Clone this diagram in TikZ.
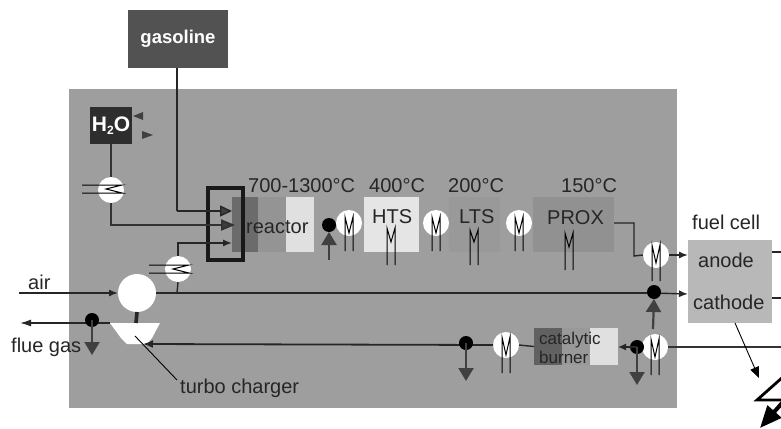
\documentclass[tikz,border=0pt]{standalone}
\usepackage{fontspec}
\setmainfont{Liberation Sans}
\usetikzlibrary{arrows.meta}
\definecolor{panelgray}{gray}{0.62}
\definecolor{tipgray}{gray}{0.25}
\tikzset{
  block/.style={rectangle,draw=none,inner sep=0pt,outer sep=0pt},
  label/.style={inner sep=0pt,font=\fontsize{20}{22}\selectfont,text=black!85},
  hot/.style={circle,fill=white,draw=none,minimum size=26pt,inner sep=0pt,outer sep=0pt},
  dot/.style={circle,fill=black,draw=none,minimum size=14pt,inner sep=0pt,outer sep=0pt},
  pipe/.style={line width=1.4pt,black!85},
  thickpipe/.style={line width=2.2pt,black!80},
  smalltip/.style={-{Latex[length=9pt,width=7pt]}},
  bigdown/.style={line width=2.2pt,black!75,-{Triangle[length=13pt,width=15pt,fill=tipgray]}},
  coilline/.style={line width=1pt,black},
  pics/mcoil/.style n args={2}{code={
    \draw[coilline] (-4,#2) -- (-4,0) -- (0,#1) -- (4,0) -- (4,#2);
  }},
  pics/hcoil/.style={code={
    \draw[coilline] (0,-4) -- (40,-4) -- (24,0) -- (40,4) -- (0,4);
  }}
}
\begin{document}
\begin{tikzpicture}[x=1pt,y=-1pt]
\useasboundingbox (0,0) rectangle (781,428);
% panel and blocks
\node[block,fill=panelgray,minimum width=608pt,minimum height=319pt] (panel) at (373,248.5) {};
\node[block,fill=black!68,minimum width=100pt,minimum height=58pt,text=white,font=\fontsize{18.5}{20}\selectfont\bfseries] (gasoline) at (178,39) {gasoline};
\node[block,fill=black!82,minimum width=42pt,minimum height=37pt,text=white,font=\fontsize{21}{23}\selectfont\bfseries] (water) at (111,125.5) {H\raisebox{-3pt}{\fontsize{12}{12}\selectfont 2}O};
\node[block,fill=black!58,minimum width=27pt,minimum height=55pt] (reacA) at (245,224.5) {};
\node[block,fill=black!42,minimum width=28pt,minimum height=55pt] (reacB) at (272,224.5) {};
\node[block,fill=black!12,minimum width=28pt,minimum height=55pt] (reacC) at (300,224.5) {};
\node[block,fill=black!10,minimum width=55pt,minimum height=55pt] (hts) at (391.5,224.5) {};
\node[block,fill=black!40,minimum width=51pt,minimum height=55pt] (lts) at (474.5,224.5) {};
\node[block,fill=black!43,minimum width=81pt,minimum height=55pt] (prox) at (573.5,224.5) {};
\node[block,fill=black!62,minimum width=28pt,minimum height=37pt] (burnA) at (548,346.5) {};
\node[block,fill=black!40,minimum width=28pt,minimum height=37pt] (burnB) at (576,346.5) {};
\node[block,fill=black!12,minimum width=28pt,minimum height=37pt] (burnC) at (604,346.5) {};
\node[block,fill=black!28,minimum width=84pt,minimum height=83pt] (fuelcell) at (730,281.5) {};
% reactor frame
\node[block,draw=black!90,line width=3.4pt,minimum width=35pt,minimum height=72pt] (frame) at (225.5,224) {};
% helpers
\coordinate (gasbend) at (177,211);
\coordinate (gasin) at (232,211);
\coordinate (gastop) at (177,68);
\coordinate (watbend) at (111,225);
\coordinate (watin) at (235,225);
\coordinate (airbend) at (177,243);
\coordinate (airin) at (232,243);
\coordinate (airtap) at (177,293);
\coordinate (airstart) at (19,293);
\coordinate (catin) at (688,294);
\coordinate (anin) at (688,255);
\coordinate (fluestart) at (110,323);
\coordinate (flueend) at (20,323);
% circles
\node[hot] (hxa) at (111,190) {};
\node[hot] (hxb) at (178,269) {};
\node[hot] (mreac) at (349,223) {};
\node[hot] (mhts) at (436,223) {};
\node[hot] (mlts) at (519,223) {};
\node[hot] (mprox) at (656,255) {};
\node[hot] (mburn) at (506,345) {};
\node[hot] (mfc) at (655,347) {};
\node[circle,fill=white,minimum size=38pt,inner sep=0pt,outer sep=0pt] (comp) at (137,293) {};
\path[fill=white] (110,323) -- (160,323) -- (152,338) -- (147,344) -- (127,344) -- (121,338) -- cycle;
\coordinate (turbR) at (143,344);
\coordinate (turbTop) at (136,323);
% pipes
\draw[pipe] (gastop) -- (gasbend);
\draw[pipe,-{Triangle[length=12pt,width=11pt,fill=tipgray]}] (gasbend) -- (gasin);
\draw[thickpipe] (water.south) -- (hxa.north);
\draw[thickpipe,-{Triangle[length=14pt,width=11pt,fill=tipgray]}] (hxa.south) -- (watbend) -- (watin);
\draw[pipe] (airtap) -- (hxb.south);
\draw[pipe,smalltip] (hxb.north) |- (airin);
\draw[pipe,smalltip] (airstart) -- (comp.west);
\draw[pipe] (comp.east) -- (652,293);
\draw[pipe,smalltip] (652,293) -- (catin);
\draw[line width=3.6pt,black!85] (comp.south) -- (turbTop);
\draw[pipe,{Latex[length=11pt,width=7pt]}-] (flueend) -- (fluestart);
\node[dot] (dflue) at (92,320) {};
\draw[bigdown] (dflue.center) -- (92,355);
\draw[line width=1.8pt,black!85,-{Latex[length=10pt,width=8pt]}] (mburn.west) -- (turbR);
\node[dot] (dburn) at (466,343) {};
\draw[bigdown] (dburn.center) -- (466,381);
\draw[pipe] (mburn.east) -- (burnA.west);
\node[dot] (dfc) at (637,347) {};
\draw[pipe,-{Latex[length=8pt,width=7pt]}] (dfc.center) -- (burnC.east |- dfc.center);
\draw[bigdown] (dfc.center) -- (637,385);
\draw[thickpipe] (mfc.east) -- (781,347);
\node[dot] (dair) at (654,292) {};
\node[dot] (dreac) at (329,225) {};
\draw[line width=2.2pt,black!75,-{Triangle[length=13pt,width=15pt,fill=tipgray]}] (329,260) -- (dreac.south);
\draw[line width=2.2pt,black!75,-{Triangle[length=13pt,width=15pt,fill=tipgray]}] (653,329) -- (dair.south);
\draw[pipe] (prox.east |- 0,223) -- (634,223) -- (634,256) -- (mprox.west);
\draw[pipe,smalltip] (mprox.east) -- (anin);
\draw[pipe] (fuelcell.east |- 0,252) -- (781,252);
\draw[pipe] (fuelcell.east |- 0,298) -- (781,298);
\fill[tipgray] (133,116) -- (143,112) -- (143,120) -- cycle;
\fill[tipgray] (153,135) -- (142,131) -- (142,139) -- cycle;
% coils
\pic at (82,189) {hcoil};
\pic at (149,269) {hcoil};
\pic at (349,217) {mcoil={16}{34}};
\pic at (436,217) {mcoil={16}{34}};
\pic at (519,217) {mcoil={16}{34}};
\pic at (391,228) {mcoil={14}{37}};
\pic at (474,230) {mcoil={12}{35}};
\pic at (569,233) {mcoil={14}{37}};
\pic at (656,245) {mcoil={18}{36}};
\pic at (506,337) {mcoil={18}{36}};
\pic at (655,339) {mcoil={18}{36}};
% annotations
\coordinate (tcA) at (135,336);
\coordinate (tcB) at (177,380);
\draw[line width=0.9pt,black] (tcA) -- (tcB);
\coordinate (fcA) at (735,323);
\coordinate (fcB) at (759,378);
\draw[line width=0.9pt,black,-{Triangle[length=11pt,width=9pt]}] (fcA) -- (fcB);
\coordinate (boltA) at (784,376);
\coordinate (boltB) at (757,400);
\coordinate (boltC) at (784,400);
\draw[line width=2.8pt,black] (boltA) -- (boltB) -- (boltC);
\coordinate (boltD) at (790,394);
\coordinate (boltE) at (760,428);
\draw[line width=4pt,black,-{Triangle[length=22pt,width=18pt]}] (boltD) -- (boltE);
% labels
\node[label,anchor=base west] (t700) at (248,192) {700-1300°C};
\node[label,anchor=base west] (t400) at (369,192) {400°C};
\node[label,anchor=base west] (t200) at (448,192) {200°C};
\node[label,anchor=base west] (t150) at (561,192) {150°C};
\node[label,anchor=base west] (lreac) at (246,233) {reactor};
\node[label,anchor=base west] (lhts) at (372,223) {HTS};
\node[label,anchor=base west] (llts) at (459,223) {LTS};
\node[label,anchor=base west] (lprox) at (547,224) {PROX};
\node[label,anchor=base west] (lfuel) at (692,229) {fuel cell};
\node[label,anchor=base west] (lan) at (698,267) {anode};
\node[label,anchor=base west] (lcat) at (693,309) {cathode};
\node[label,anchor=base west] (lair) at (28,289) {air};
\node[label,anchor=base west] (lflue) at (11,352) {flue gas};
\node[label,anchor=base west] (ltc) at (180,393) {turbo charger};
\node[label,anchor=base west,font=\fontsize{17}{19}\selectfont] (lcata) at (539,344) {catalytic};
\node[label,anchor=base west,font=\fontsize{17}{19}\selectfont] (lburn) at (539,363) {burner};
\end{tikzpicture}
\end{document}
